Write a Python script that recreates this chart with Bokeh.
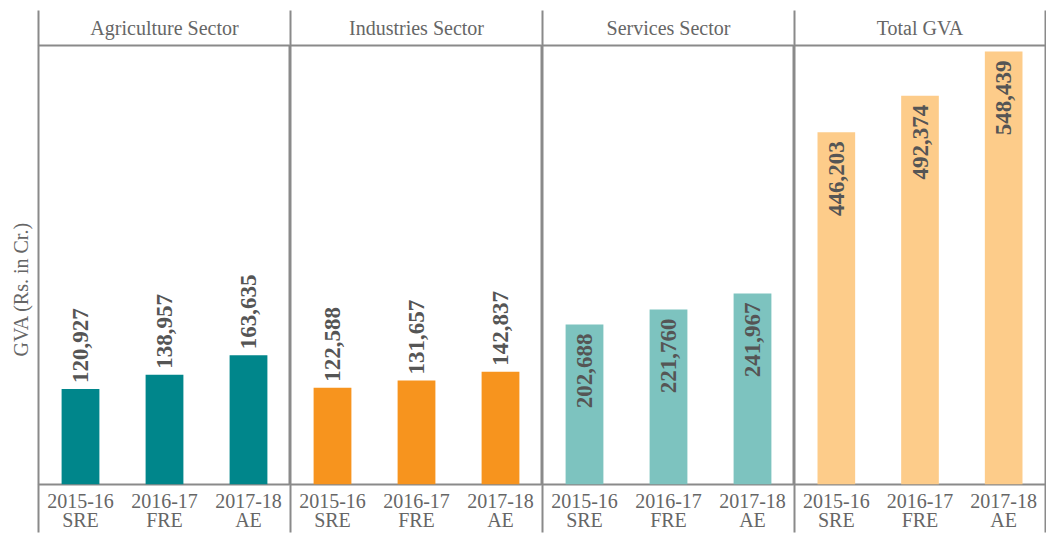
from math import pi
from bokeh.plotting import figure
from bokeh.layouts import row
from bokeh.models import Range1d, LinearAxis, FixedTicker, Title, ColumnDataSource
from bokeh.core.properties import value
from bokeh.embed import file_html
from bokeh.resources import INLINE

# ---- data ----
sectors = ["Agriculture Sector", "Industries Sector", "Services Sector", "Total GVA"]
years = ["2015-16\nSRE", "2016-17\nFRE", "2017-18\nAE"]
agriculture = [120927, 138957, 163635]
industries = [122588, 131657, 142837]
services = [202688, 221760, 241967]
total_gva = [446203, 492374, 548439]
y_label = "GVA (Rs. in Cr.)"

series = [agriculture, industries, services, total_gva]
colors = ["#00868B", "#F7941E", "#7DC3BF", "#FDCC8A"]
label_inside = [False, False, True, True]

FONT = "Liberation Serif"
LINE = "#8a8a8a"
TXT = "#666666"

PANEL_WIDTHS = [252, 252, 252, 251]
LEFT_GUTTER = 38
H = 534
TOP = 45
BOTTOM = 48
Y_MAX = 556000
STRIP_TICK = 35
BOTTOM_TICK = 48

positions = [1, 2, 3]
figs = []
for i, (name, vals, col, inside) in enumerate(zip(sectors, series, colors, label_inside)):
    mb_left = LEFT_GUTTER if i == 0 else 0
    mb_right = 1 if i == len(sectors) - 1 else 0
    p = figure(width=PANEL_WIDTHS[i] + mb_left + mb_right, height=H, output_backend="svg",
               toolbar_location=None, x_axis_location=None, y_axis_location=None,
               x_range=Range1d(0.5, 3.5), y_range=Range1d(0, Y_MAX),
               min_border_left=mb_left, min_border_right=mb_right,
               min_border_top=TOP, min_border_bottom=BOTTOM)
    p.grid.visible = False
    p.outline_line_color = LINE
    p.outline_line_width = 2
    p.background_fill_color = "white"
    p.border_fill_color = "white"

    src = ColumnDataSource(dict(x=positions, top=vals,
                                label=[f"{v:,}" for v in vals]))
    p.vbar(x="x", top="top", width=0.45, bottom=0, source=src,
           fill_color=col, line_color=None)
    p.text(x="x", y="top", text="label", source=src, angle=pi / 2,
           text_align="right" if inside else "left", text_baseline="middle",
           y_offset=9 if inside else -6,
           text_font=value(FONT), text_font_style="bold",
           text_font_size="23px", text_color="#555555")

    # bottom axis: year labels, with long minor ticks as panel dividers
    below = LinearAxis(ticker=FixedTicker(ticks=positions, minor_ticks=[0.5, 3.5]),
                       major_label_overrides={pos: yr for pos, yr in zip(positions, years)})
    below.axis_line_color = None
    below.major_tick_in = 0
    below.major_tick_out = 0
    below.minor_tick_in = 0
    below.minor_tick_out = BOTTOM_TICK
    below.minor_tick_line_color = LINE
    below.minor_tick_line_width = 2
    below.major_label_standoff = -BOTTOM_TICK + 5
    below.major_label_text_font = FONT
    below.major_label_text_font_size = "20px"
    below.major_label_text_color = TXT
    below.major_label_text_line_height = 0.9
    p.add_layout(below, "below")

    # top axis: strip title as tick label, minor ticks as strip dividers
    above = LinearAxis(ticker=FixedTicker(ticks=[2], minor_ticks=[0.5, 3.5]),
                       major_label_overrides={2: name})
    above.axis_line_color = None
    above.major_tick_in = 0
    above.major_tick_out = 0
    above.minor_tick_in = 0
    above.minor_tick_out = STRIP_TICK
    above.minor_tick_line_color = LINE
    above.minor_tick_line_width = 2
    above.major_label_standoff = -STRIP_TICK + 7
    above.major_label_text_font = FONT
    above.major_label_text_font_size = "20px"
    above.major_label_text_color = TXT
    p.add_layout(above, "above")

    if i == 0:
        yt = Title(text=y_label, align="left", text_font=FONT,
                   text_font_size="20px", text_font_style="normal",
                   text_color=TXT, standoff=13, offset=128)
        p.add_layout(yt, "left")
    figs.append(p)

layout = row(*figs, spacing=0)
open("out.html", "w").write(file_html(layout, INLINE))
